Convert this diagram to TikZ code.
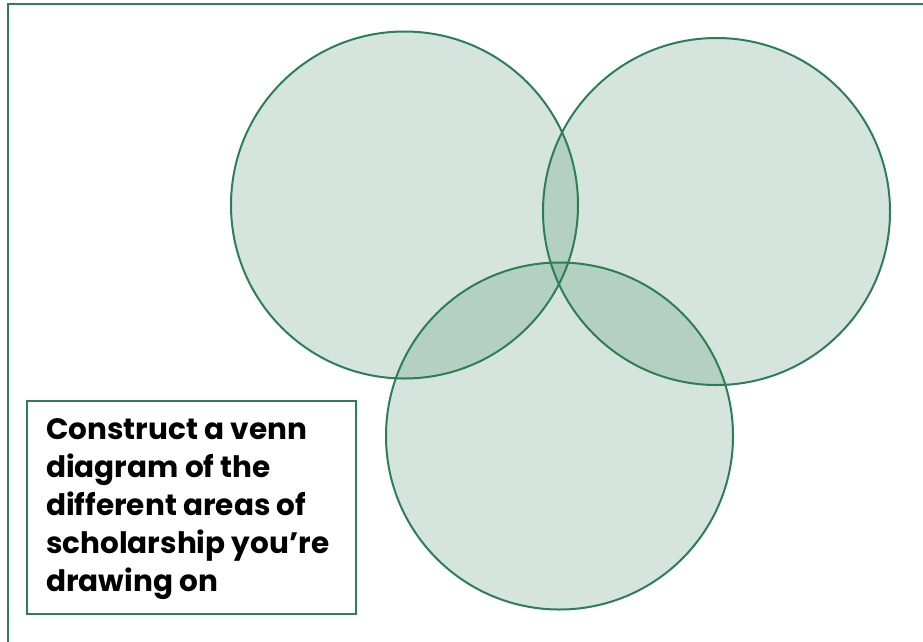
\documentclass[tikz,border=0pt]{standalone}
\usepackage{fontspec}
\setmainfont{Poppins}
\definecolor{venn}{RGB}{44,126,88}
\begin{document}
\begin{tikzpicture}[x=1pt,y=-1pt,
  vcirc/.style={circle,draw=venn,line width=2pt,fill=venn,fill opacity=0.2,text opacity=1,inner sep=0pt,minimum size=347pt},
  frame/.style={draw=venn,line width=2.5pt},
  promptbox/.style={draw=venn,line width=2pt,minimum width=329pt,minimum height=213pt,inner sep=0pt},
  prompt/.style={align=left,font=\bfseries\fontsize{29.5}{38}\selectfont,inner sep=0pt,anchor=north west}]
\useasboundingbox (0,0) rectangle (923,641);
\draw[frame] (8,700) -- (8,4) -- (960,4);
\node[vcirc] (A) at (404.5,205) {};
\node[vcirc] (B) at (716.5,211.5) {};
\node[vcirc] (C) at (559.5,436) {};
\node[promptbox] (box) at (191.5,507.5) {};
\node[prompt] (txt) at (46,418) {Construct a venn\\diagram of the\\different areas of\\scholarship you’re\\drawing on};
\end{tikzpicture}
\end{document}
